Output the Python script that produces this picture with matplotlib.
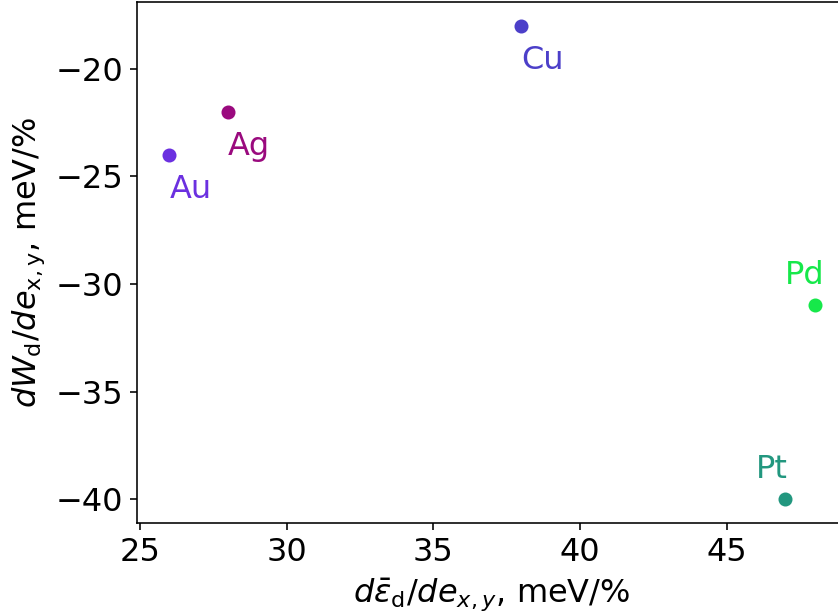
import matplotlib
matplotlib.use('Agg')
import matplotlib.pyplot as plt

# 各金属的数据
metals = ['Au', 'Ag', 'Cu', 'Pd', 'Pt']
d_eps = [26, 28, 38, 48, 47]      # x轴: d-band中心对应变的导数
d_width = [-24, -22, -18, -31, -40]   # y轴: d-band宽度对应变的导数
colors = ['#6b30e0', '#9a0a7e', '#4c3fc9', '#16e84a', '#22977f']
# 标签相对点的偏移
label_dx = [0, 0, 0, -1, -1]
label_dy = [-2, -2, -2, 1, 1]

plt.rcParams['font.size'] = 16
fig = plt.figure(figsize=(838 / 144, 613 / 144), dpi=144)
ax = fig.add_axes([0.1635, 0.1473, 0.847, 0.849])

for i in range(len(metals)):
    ax.scatter(d_eps[i], d_width[i], color=colors[i])
    ax.text(d_eps[i] + label_dx[i], d_width[i] + label_dy[i], metals[i], color=colors[i])

ax.set_xlabel(r'$d\bar{\varepsilon}_\mathrm{d}/de_{x,y}$, meV/%')
ax.set_ylabel(r'$dW_\mathrm{d}/de_\mathrm{x,y}$, meV/%')
ax.set_xticks([25, 30, 35, 40, 45])
ax.set_yticks([-20, -25, -30, -35, -40])

fig.savefig('out.png', dpi=144)
